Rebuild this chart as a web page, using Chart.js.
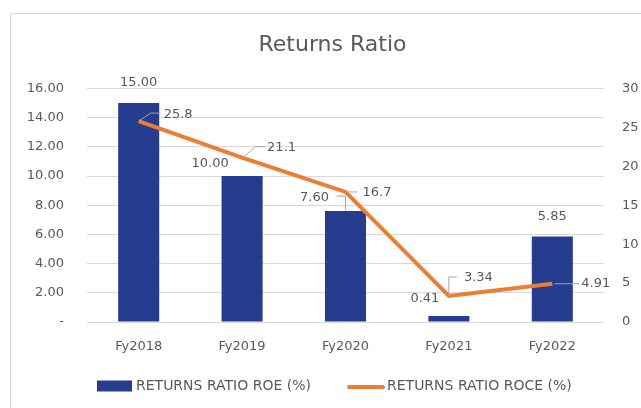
<!DOCTYPE html>
<html><head><meta charset="utf-8">
<script src="https://cdn.jsdelivr.net/npm/chart.js@4.4.0/dist/chart.umd.min.js"></script>
<style>
html,body{margin:0;padding:0;background:#fff;overflow:hidden}
#frame{position:absolute;left:10px;top:13px;width:700px;height:500px;border:1px solid #d9d9d9;box-sizing:border-box}
#wrap{position:absolute;left:0;top:0;width:641px;height:408px}
</style></head><body>
<div id="frame"></div>
<div id="wrap"><canvas id="c" width="641" height="408"></canvas></div>
<script>
// ---- data ----
const categories = ['Fy2018', 'Fy2019', 'Fy2020', 'Fy2021', 'Fy2022'];
const roeValues = [15.00, 10.00, 7.60, 0.41, 5.85];
const roceValues = [25.8, 21.1, 16.7, 3.34, 4.91];
const roceLabelText = ['25.8', '21.1', '16.7', '3.34', '4.91'];
const seriesNames = ['RETURNS RATIO ROE (%)', 'RETURNS RATIO ROCE (%)'];
const chartTitle = 'Returns Ratio';

// ---- style ----
const BLUE = '#253C8F', ORANGE = '#ED7D31', TXT = '#595959', GRID = '#d9d9d9', LEAD = '#a6a6a6';
const FONT = '"DejaVu Sans", sans-serif';
const barLabelStyle = [
  {dx: 0, dy: -20}, {dx: -32, dy: -12},
  {dx: -31, dy: -13, leader: [[-9, -15], [0, -15], [0, -1]]},
  {dx: -24, dy: -17}, {dx: 0, dy: -20}
];
const lineLabelStyle = [
  {path: [[0, 0], [12, -8], [22, -8]], tx: 25, ty: -6},
  {path: [[1, 0], [13, -11], [23, -11]], tx: 25, ty: -10},
  {path: [[2, 0], [12, 0]], tx: 17, ty: 1},
  {path: [[0, 0], [0, -19], [8, -19]], tx: 15, ty: -18},
  {path: [[2, 0], [27, 0]], tx: 29, ty: 0}
];

const labelsPlugin = {
  id: 'labels',
  afterDatasetsDraw(chart) {
    const ctx = chart.ctx;
    ctx.save();
    ctx.font = '13px ' + FONT;
    ctx.fillStyle = TXT;
    ctx.textBaseline = 'middle';
    const barMeta = chart.getDatasetMeta(0);
    barMeta.data.forEach((bar, i) => {
      const s = barLabelStyle[i];
      ctx.textAlign = 'center';
      ctx.fillText(roeValues[i].toFixed(2), bar.x + s.dx, bar.y + s.dy);
      if (s.leader) {
        ctx.strokeStyle = LEAD; ctx.lineWidth = 1;
        ctx.beginPath();
        s.leader.forEach((p, k) => k ? ctx.lineTo(bar.x + p[0], bar.y + p[1]) : ctx.moveTo(bar.x + p[0], bar.y + p[1]));
        ctx.stroke();
      }
    });
    const lineMeta = chart.getDatasetMeta(1);
    lineMeta.data.forEach((pt, i) => {
      const s = lineLabelStyle[i];
      ctx.strokeStyle = LEAD; ctx.lineWidth = 1;
      ctx.beginPath();
      s.path.forEach((p, k) => k ? ctx.lineTo(pt.x + p[0], pt.y + p[1]) : ctx.moveTo(pt.x + p[0], pt.y + p[1]));
      ctx.stroke();
      ctx.textAlign = 'left';
      ctx.fillText(roceLabelText[i], pt.x + s.tx, pt.y + s.ty);
    });
    ctx.restore();
  },
  afterDraw(chart) {
    const ctx = chart.ctx;
    ctx.save();
    ctx.font = '14px ' + FONT;
    ctx.textBaseline = 'middle';
    ctx.textAlign = 'left';
    const y = 386;
    ctx.fillStyle = BLUE;
    ctx.fillRect(97, y - 5.5, 35, 11);
    ctx.fillStyle = TXT;
    ctx.fillText(seriesNames[0], 136, y);
    ctx.strokeStyle = ORANGE; ctx.lineWidth = 4; ctx.lineCap = 'round';
    ctx.beginPath(); ctx.moveTo(349, y + 1); ctx.lineTo(383, y + 1); ctx.stroke();
    ctx.fillText(seriesNames[1], 387, y);
    ctx.restore();
  }
};

new Chart(document.getElementById('c'), {
  data: {
    labels: categories,
    datasets: [
      {type: 'bar', label: seriesNames[0], data: roeValues, backgroundColor: BLUE, yAxisID: 'y', order: 2,
       categoryPercentage: 1, barPercentage: 0.397},
      {type: 'line', label: seriesNames[1], data: roceValues, borderColor: ORANGE, backgroundColor: ORANGE,
       borderWidth: 4, pointRadius: 0, yAxisID: 'y1', order: 1, tension: 0}
    ]
  },
  options: {
    responsive: false, animation: false, devicePixelRatio: 1,
    layout: {padding: {left: 24, right: 0, top: 0, bottom: 51}},
    plugins: {
      legend: {display: false}, tooltip: {enabled: false},
      title: {display: true, text: chartTitle, color: TXT, font: {family: FONT, size: 22, weight: 'normal'},
              padding: {top: 32, bottom: 30}}
    },
    scales: {
      x: {grid: {display: false, drawTicks: false}, border: {display: false},
          ticks: {color: TXT, font: {family: FONT, size: 13}, padding: 17},
          afterFit(s) { s.height = 35; }},
      y: {position: 'left', min: 0, max: 16, grid: {color: GRID, drawTicks: false}, border: {display: false},
          ticks: {stepSize: 2, color: TXT, font: {family: FONT, size: 13}, padding: 23,
                  callback: v => v === 0 ? '-' : v.toFixed(2)},
          afterFit(s) { s.width = 63; }},
      y1: {position: 'right', min: 0, max: 30, grid: {display: false, drawTicks: false}, border: {display: false},
           ticks: {stepSize: 5, color: TXT, font: {family: FONT, size: 13}, padding: 18},
           afterFit(s) { s.width = 37; }}
    }
  },
  plugins: [labelsPlugin]
});
</script>
</body></html>
